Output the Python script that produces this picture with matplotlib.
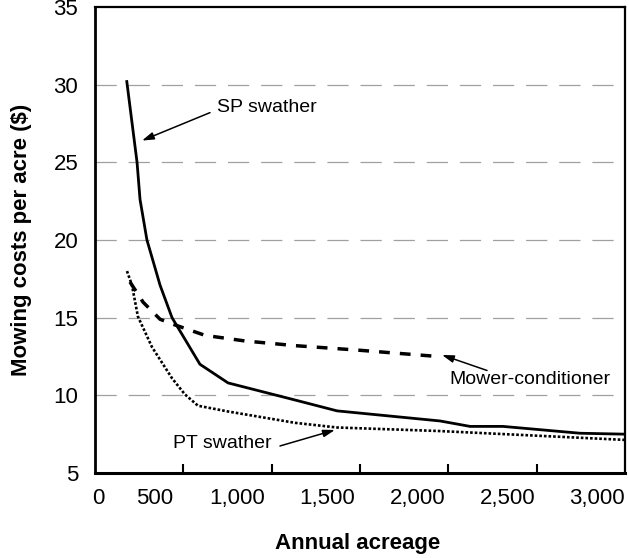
import matplotlib
matplotlib.use("Agg")
import matplotlib.pyplot as plt

plt.rcParams['font.family'] = ['Liberation Sans', 'DejaVu Sans']

# Data
sp_acres = [180, 238, 255, 294, 340, 368, 436, 594, 753, 1132, 1370, 1953, 2123, 2309, 2745, 3000]
sp_cost = [30.2, 25.0, 22.6, 20.0, 18.2, 17.1, 15.0, 12.0, 10.8, 9.7, 9.0, 8.35, 8.0, 8.0, 7.56, 7.5]

mc_acres = [198, 272, 368, 436, 623, 849, 1132, 1500, 1941]
mc_cost = [17.3, 16.0, 14.9, 14.6, 13.86, 13.5, 13.2, 12.9, 12.5]

pt_acres = [181, 209, 243, 323, 436, 509, 583, 753, 1132, 1370, 1953, 3000]
pt_cost = [18.0, 17.1, 15.07, 13.1, 11.1, 10.06, 9.33, 8.96, 8.23, 7.93, 7.7, 7.13]

x_tick_marks = [500, 1000, 1500, 2000, 2500]
x_label_pos = [17, 340, 804, 1313, 1828, 2338, 2842]
x_labels = ['0', '500', '1,000', '1,500', '2,000', '2,500', '3,000']
y_ticks = [5, 10, 15, 20, 25, 30, 35]

fig = plt.figure(figsize=(6.29, 5.58), dpi=100)
ax = fig.add_axes([95/629, 1-473/558, 530/629, 466/558])

ax.set_xlim(0, 3000)
ax.set_ylim(5, 35)

# grid
for yv in y_ticks[1:-1]:
    ax.axhline(yv, color='#a0a0a0', lw=0.9, dashes=(17, 9.5), zorder=1)

ax.plot(sp_acres, sp_cost, color='black', lw=2.0, solid_joinstyle='miter', zorder=3)
ax.plot(mc_acres, mc_cost, color='black', lw=2.5, dashes=(3.1, 2.9), dash_capstyle='butt', zorder=3)
ax.plot(pt_acres, pt_cost, color='black', lw=1.9, dashes=(1, 0.75), dash_capstyle='butt', zorder=3)

# ticks
ax.set_xticks(x_tick_marks)
ax.set_xticklabels([])
ax.tick_params(axis='x', which='major', direction='in', length=6.5, width=1.5)
ax.set_xticks(x_label_pos, minor=True)
ax.set_xticklabels(x_labels, minor=True, fontsize=16)
ax.tick_params(axis='x', which='minor', length=0, pad=11)

ax.set_yticks(y_ticks)
ax.set_yticklabels([str(v) for v in y_ticks], fontsize=16)
ax.tick_params(axis='y', length=0, pad=12)

for side, w in [('left', 2.0), ('bottom', 2.2), ('top', 1.6), ('right', 1.6)]:
    ax.spines[side].set_linewidth(w)
    ax.spines[side].set_zorder(5)

# annotations
arrow_kw = dict(arrowstyle='-|>,head_length=0.7,head_width=0.22', color='black', lw=1.1,
                shrinkA=0, shrinkB=0)
ax.annotate('', xy=(266, 26.4), xytext=(651, 28.2), arrowprops=arrow_kw)
ax.text(690, 28.5, 'SP swather', fontsize=14, va='center', ha='left')

ax.annotate('', xy=(1964, 12.6), xytext=(2219, 11.6), arrowprops=arrow_kw)
ax.text(2004, 11.0, 'Mower-conditioner', fontsize=14, va='center', ha='left')

ax.annotate('', xy=(1358, 7.77), xytext=(1047, 6.74), arrowprops=arrow_kw)
ax.text(441, 6.93, 'PT swather', fontsize=14, va='center', ha='left')

fig.text(358/629, 1-543/558, 'Annual acreage', fontsize=16, fontweight='bold', ha='center', va='center')
fig.text(22/629, 1-240/558, 'Mowing costs per acre ($)', fontsize=16, fontweight='bold',
         ha='center', va='center', rotation=90)

fig.savefig('out.png', dpi=100)
